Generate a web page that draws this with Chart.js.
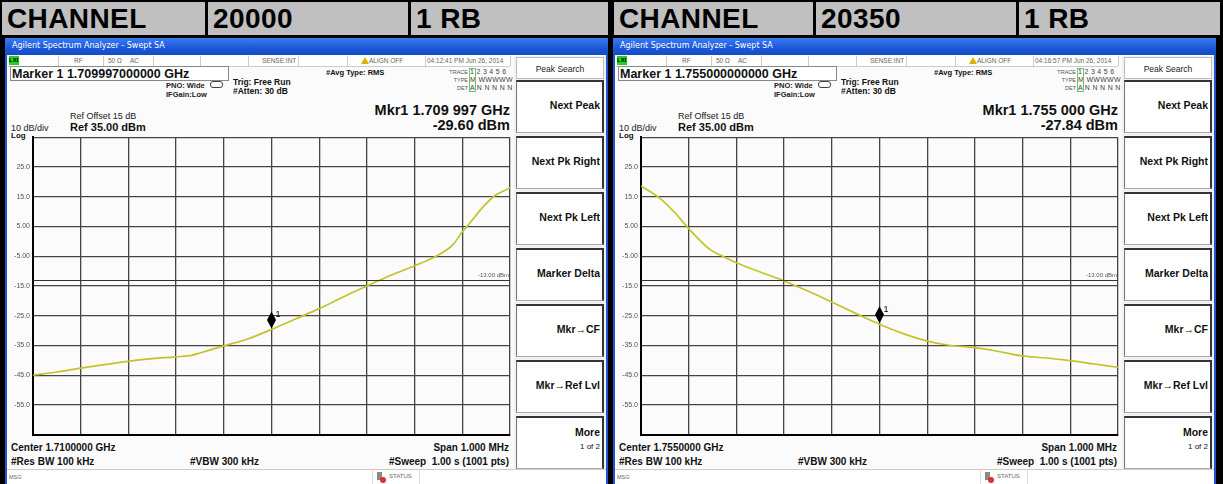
<!DOCTYPE html>
<html><head><meta charset="utf-8">
<script src="https://cdn.jsdelivr.net/npm/chart.js@4"></script>
<style>
html,body{margin:0;padding:0;background:#000;}
#root{position:relative;width:1223px;height:484px;overflow:hidden;background:#000;font-family:"Liberation Sans",Arial,sans-serif;}
.abs{position:absolute;white-space:nowrap;}
.hdr{position:absolute;top:2px;height:33px;background:#c0c0c0;font-weight:bold;font-size:28px;line-height:34px;padding-left:5px;box-sizing:border-box;color:#000;letter-spacing:0.4px;overflow:hidden;}
.win{position:absolute;top:38px;height:446px;background:#1d57d2;}
.title{position:absolute;left:0;top:0;right:0;height:17px;background:linear-gradient(#3b7cf0,#1a58d8 60%,#164cc4);}
.content{position:absolute;background:#fbfbfb;}
.sk{position:absolute;left:516px;width:88px;height:53px;background:#fff;border-top:2px solid #333;border-left:1px solid #777;border-right:2px solid #333;border-bottom:1px solid #aaa;box-sizing:border-box;}
.sk span{position:absolute;right:2px;font-weight:bold;font-size:10.5px;color:#111;white-space:nowrap;}
</style></head>
<body><div id="root"></div>
<script>
// ---------- data ----------
const panelChannels = ["20000", "20350"];
const centerLabels = ["Center 1.7100000 GHz", "Center 1.7550000 GHz"];
const markerLabels = ["Marker 1 1.709997000000 GHz", "Marker 1 1.755000000000 GHz"];
const mkrFreqLabels = ["Mkr1 1.709 997 GHz", "Mkr1 1.755 000 GHz"];
const mkrLevelLabels = ["-29.60 dBm", "-27.84 dBm"];
const timeLabels = ["04:12:41 PM Jun 26, 2014", "04:16:57 PM Jun 26, 2014"];
// frequency offset from center (kHz)
const traceOffsetsA = [-500,-450,-400,-350,-300,-250,-200,-165,-150,-100,-50,0,50,100,150,200,250,300,345,380,400,415,440,465,500];
const traceLevelsA  = [-45.0,-43.9,-42.6,-41.4,-40.3,-39.4,-38.8,-38.2,-37.5,-35.1,-32.8,-29.6,-26.1,-22.6,-18.7,-15.0,-11.4,-8.2,-5.0,-1.2,3.2,6.0,10.9,15.0,18.0];
const traceOffsetsB = [-500,-462,-430,-400,-355,-335,-300,-250,-200,-150,-100,-50,0,50,100,150,200,250,300,350,400,450,500];
const traceLevelsB  = [18.6,14.7,9.8,4.3,-2.8,-4.5,-7.2,-10.3,-13.3,-16.7,-20.4,-24.2,-27.84,-31.0,-33.5,-35.0,-35.7,-37.0,-38.5,-39.2,-40.1,-41.2,-42.3];
const markerLevels = [-29.60, -27.84];
const limitLevel = -13;
const yTickValues = [35,25,15,5,-5,-15,-25,-35,-45,-55,-65];
const yTickLabels = ["","25.0","15.0","5.00","-5.00","-15.0","-25.0","-35.0","-45.0","-55.0",""];
const softkeys = ["Next Peak","Next Pk Right","Next Pk Left","Marker Delta","Mkr\u2192CF","Mkr\u2192Ref Lvl"];

const root = document.getElementById('root');
function el(tag, cls, style, text, parent){
  const e=document.createElement(tag); if(cls) e.className=cls;
  if(style) e.style.cssText=style; if(text!==undefined) e.textContent=text;
  (parent||root).appendChild(e); return e;
}
// header cells
[[2,203,"CHANNEL"],[208,200,panelChannels[0]],[411,197,"1 RB"],
 [614,199,"CHANNEL"],[816,200,panelChannels[1]],[1019,201,"1 RB"]].forEach(c=>{
  el('div','hdr',`left:${c[0]}px;width:${c[1]}px;`,c[2]);
});

function txt(p,x,y,size,text,opts){
  opts=opts||{};
  const s=`font-size:${size}px;top:${y-size}px;line-height:${size*1.2}px;color:${opts.color||'#111'};`+
    (opts.bold?'font-weight:bold;':'')+(opts.right!==undefined?`right:${opts.right}px;`:`left:${x}px;`)+(opts.extra||'');
  return el('div','abs',s,text,p);
}

function makePanel(idx, ox){
  const P = el('div',null,`position:absolute;left:${ox}px;top:0;width:612px;height:484px;`);
  const win = el('div','win','left:5px;width:603px;',undefined,P);
  const tb = el('div','title','',undefined,win);
  el('div','abs','left:7px;top:3px;font-size:8px;color:#fff;font-family:"DejaVu Sans",sans-serif;','Agilent Spectrum Analyzer - Swept SA',tb);
  const C = el('div','content','left:2px;top:17px;width:599px;height:429px;',undefined,win);
  const X=x=>x-7, Y=y=>y-55;
  // status row
  el('div','abs',`left:${X(8)}px;top:${Y(56)}px;width:502px;height:10px;background:#fff;border-bottom:1px solid #ccc;`,undefined,C);
  [58,103,153,200,248,298,347,425,510].forEach(x=>el('div','abs',`left:${X(x)}px;top:${Y(56)}px;width:1px;height:10px;background:#ccc;`,undefined,C));
  el('div','abs',`left:${X(9)}px;top:${Y(56)}px;width:10px;height:9px;background:#22d022;font-size:6px;line-height:9px;color:#000;font-weight:bold;`,'LXI',C);
  const st=(x,t)=>el('div','abs',`left:${X(x)}px;top:${Y(57)}px;font-size:6.5px;line-height:8px;color:#666;`,t,C);
  st(74,'RF'); st(108,'50 \u03A9'); st(130,'AC'); st(262,'SENSE:INT'); st(369,'ALIGN OFF'); st(427,timeLabels[idx]);
  el('div','abs',`left:${X(361)}px;top:${Y(57)}px;width:0;height:0;border-left:4px solid transparent;border-right:4px solid transparent;border-bottom:7px solid #e0b000;`,undefined,C);
  // marker box
  el('div','abs',`left:${X(10)}px;top:${Y(66)}px;width:219px;height:15px;border:1px solid #888;background:#fff;box-sizing:border-box;`,undefined,C);
  txt(C,X(12),Y(79.5),12.5,markerLabels[idx],{bold:true});
  txt(C,X(166),Y(88),7.5,'PNO: Wide',{bold:true,color:'#222'});
  el('div','abs',`left:${X(210)}px;top:${Y(81)}px;width:11px;height:5px;border:1px solid #444;border-radius:3px;`,undefined,C);
  txt(C,X(166),Y(97),7.5,'IFGain:Low',{bold:true,color:'#222'});
  txt(C,X(233),Y(85),8.5,'Trig: Free Run',{bold:true});
  txt(C,X(233),Y(94.5),8.5,'#Atten: 30 dB',{bold:true});
  txt(C,X(326),Y(75),7.5,'#Avg Type: RMS',{bold:true});
  const ti=(y,lab,val)=>{
    el('div','abs',`right:${599-X(468)}px;top:${Y(y)-6}px;font-size:5.5px;line-height:7px;color:#555;`,lab,C);
    el('div','abs',`left:${X(470)}px;top:${Y(y)-7}px;font-size:7px;line-height:8px;color:#444;letter-spacing:0.3px;`,val,C);
  };
  ti(75,'TRACE','1 2 3 4 5 6'); ti(83,'TYPE','M WWWWW'); ti(91,'DET','A N N N N N');
  el('div','abs',`left:${X(469)}px;top:${Y(68)}px;width:7px;height:24px;border:1px solid #6c6;box-sizing:border-box;`,undefined,C);
  // marker readout
  txt(C,0,Y(116),14.5,mkrFreqLabels[idx],{bold:true,right:599-X(510)});
  txt(C,0,Y(131),14.5,mkrLevelLabels[idx],{bold:true,right:599-X(510)});
  txt(C,X(70),Y(120),9,'Ref Offset 15 dB',{color:'#222'});
  txt(C,X(70),Y(132),11,'Ref 35.00 dBm',{bold:true});
  txt(C,X(11),Y(132),9,'10 dB/div',{color:'#222'});
  txt(C,X(11),Y(139),8,'Log',{bold:true});
  // bottom texts
  txt(C,X(11),Y(452),10,centerLabels[idx],{bold:true});
  txt(C,X(11),Y(466),10,'#Res BW 100 kHz',{bold:true});
  txt(C,X(190),Y(466),10,'#VBW 300 kHz',{bold:true});
  txt(C,0,Y(452),10,'Span 1.000 MHz',{bold:true,right:599-X(509)});
  txt(C,0,Y(466),10,'#Sweep\u00a0\u00a01.00 s (1001 pts)',{bold:true,right:599-X(509)});
  // bottom status bar
  el('div','abs',`left:0;top:${Y(469)}px;width:599px;height:15px;background:#fff;border-top:1px solid #ccc;`,undefined,C);
  [372,419].forEach(x=>el('div','abs',`left:${X(x)}px;top:${Y(470)}px;width:1px;height:14px;background:#ddd;`,undefined,C));
  el('div','abs',`left:${X(9)}px;top:${Y(474)}px;font-size:5.5px;line-height:7px;color:#666;`,'MSG',C);
  el('div','abs',`left:${X(377)}px;top:${Y(472)}px;width:5px;height:8px;background:#888;`,undefined,C);
  el('div','abs',`left:${X(380)}px;top:${Y(477)}px;width:6px;height:6px;border-radius:3px;background:#e03030;`,undefined,C);
  el('div','abs',`left:${X(389)}px;top:${Y(473)}px;font-size:6px;line-height:7px;color:#666;`,'STATUS',C);
  // softkeys
  el('div','abs',`left:${X(514)}px;top:${Y(56)}px;width:92px;height:413px;background:#f2f2f2;`,undefined,C);
  el('div','abs',`left:${X(516)}px;top:${Y(57)}px;width:88px;height:22px;background:#fff;border:1px solid #bbb;box-sizing:border-box;font-size:8.5px;line-height:22px;text-align:center;color:#222;`,'Peak Search',C);
  softkeys.forEach((k,i)=>{
    const b=el('div','sk',`left:${X(516)}px;top:${Y(80+56*i)}px;`,undefined,C);
    el('span',null,'top:17px;',k,b);
  });
  const mb=el('div','sk',`left:${X(516)}px;top:${Y(416)}px;`,undefined,C);
  el('span',null,'top:8px;','More',mb);
  el('span',null,'top:24px;font-weight:normal;font-size:8px;','1 of 2',mb);

  // chart canvas
  const cv=document.createElement('canvas');
  cv.width=512; cv.height=312;
  cv.style.cssText=`position:absolute;left:${X(0)}px;top:${Y(130)}px;width:512px;height:312px;`;
  C.appendChild(cv);
  const offs = idx===0?traceOffsetsA:traceOffsetsB;
  const lvls = idx===0?traceLevelsA:traceLevelsB;
  const mkr = markerLevels[idx];
  const overlay={
    id:'ov'+idx,
    afterDatasetsDraw(chart){
      const {ctx,chartArea:a,scales:{x,y}}=chart;
      ctx.save();
      const ly=Math.round(y.getPixelForValue(limitLevel))+0.5;
      ctx.strokeStyle='#333'; ctx.lineWidth=1;
      ctx.beginPath(); ctx.moveTo(a.left,ly); ctx.lineTo(a.right,ly); ctx.stroke();
      ctx.fillStyle='#555'; ctx.font='6px "Liberation Sans"'; ctx.textAlign='right'; ctx.textBaseline='bottom';
      ctx.fillText('-13.00 dBm',a.right-1,ly-2);
      const px=x.getPixelForValue(0), py=y.getPixelForValue(mkr)-1;
      ctx.fillStyle='#000';
      ctx.beginPath(); ctx.moveTo(px,py); ctx.lineTo(px+4.5,py-8.5); ctx.lineTo(px,py-17); ctx.lineTo(px-4.5,py-8.5); ctx.closePath(); ctx.fill();
      ctx.font='9px "Liberation Sans"'; ctx.textAlign='left'; ctx.textBaseline='alphabetic';
      ctx.fillText('1',px+4,py-11);
      ctx.restore();
    }
  };
  new Chart(cv,{
    type:'line',
    data:{datasets:[{data:offs.map((o,i)=>({x:o,y:lvls[i]})),borderColor:'#c3c32a',borderWidth:1.7,pointRadius:0,cubicInterpolationMode:'monotone',fill:false}]},
    options:{
      responsive:false,animation:false,devicePixelRatio:1,
      layout:{padding:{top:5,right:2,bottom:3.5,left:0}},
      plugins:{legend:{display:false},tooltip:{enabled:false}},
      scales:{
        x:{type:'linear',min:-500,max:500,
           ticks:{display:false,stepSize:100},
           grid:{color:'#444',lineWidth:1.3,drawTicks:false},
           border:{display:true,color:'#000',width:2},
           afterFit(s){s.height=0;}},
        y:{type:'linear',min:-65,max:35,
           afterBuildTicks(s){s.ticks=yTickValues.map(v=>({value:v}));},
           ticks:{padding:3,color:'#555',font:{size:7,family:'Liberation Sans'},
             callback:(v)=>{const i=yTickValues.indexOf(v);return i>=0?yTickLabels[i]:'';}},
           grid:{color:'#444',lineWidth:1.3,drawTicks:false},
           border:{display:true,color:'#000',width:2},
           afterFit(s){s.width=33;}}
      }
    },
    plugins:[overlay]
  });
}
makePanel(0,0);
makePanel(1,608);
</script>
</body></html>
